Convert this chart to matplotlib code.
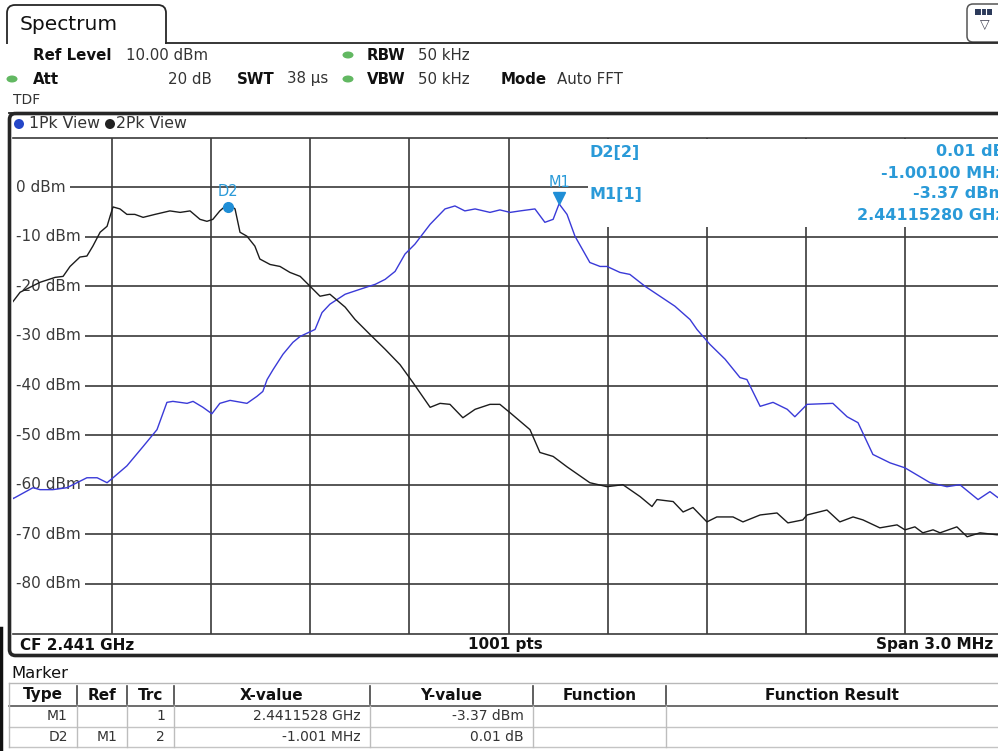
#---Spectrum analyser screenshot: two peak traces with markers---
import matplotlib.pyplot as plt
from matplotlib.patches import Rectangle, FancyBboxPatch, Ellipse, Circle
from matplotlib.transforms import blended_transform_factory, offset_copy

plt.rcParams['font.family'] = 'DejaVu Sans'

#---Instrument settings---
center_ghz = 2.441
span_mhz = 3.0
ref_level = 10      # dBm, top of the screen
bottom_level = -90  # dBm, bottom of the screen
level_ticks = [0, -10, -20, -30, -40, -50, -60, -70, -80]

#---Trace 1 (1Pk View, blue): offset from CF in MHz, level in dBm---
trace1_freq = [-1.500, -1.498, -1.438, -1.417, -1.378, -1.335, -1.275, -1.244, -1.214,
               -1.196, -1.154, -1.105, -1.063, -1.033, -1.015, -0.972, -0.954, -0.924,
               -0.897, -0.873, -0.842, -0.791, -0.761, -0.743, -0.730, -0.712, -0.682,
               -0.652, -0.630, -0.585, -0.564, -0.540, -0.494, -0.449, -0.403, -0.373,
               -0.343, -0.313, -0.283, -0.237, -0.192, -0.162, -0.132, -0.101, -0.056,
               -0.026, 0.005, 0.035, 0.080, 0.110, 0.135, 0.153, 0.177, 0.201, 0.246,
               0.277, 0.298, 0.337, 0.367, 0.413, 0.458, 0.503, 0.549, 0.570, 0.609,
               0.655, 0.700, 0.721, 0.761, 0.800, 0.843, 0.866, 0.903, 0.981, 1.024,
               1.057, 1.102, 1.154, 1.199, 1.275, 1.326, 1.365, 1.420, 1.456, 1.480, 1.500]
trace1_level = [-62.6, -62.8, -60.6, -61.0, -61.0, -60.6, -58.6, -58.6, -59.6,
                -58.6, -56.2, -52.3, -48.9, -43.4, -43.2, -43.6, -43.2, -44.4,
                -45.7, -43.6, -43.0, -43.6, -42.2, -41.2, -38.8, -36.8, -33.7,
                -31.3, -30.1, -28.7, -25.3, -23.6, -21.6, -20.6, -19.6, -18.6,
                -17.0, -13.5, -11.5, -7.5, -4.4, -3.8, -4.8, -4.4, -5.1,
                -4.6, -5.1, -4.8, -4.4, -7.1, -6.5, -3.37, -5.5, -9.9, -15.2,
                -16.0, -16.0, -17.2, -17.6, -20.0, -22.0, -24.0, -26.7, -28.7, -31.7,
                -34.7, -38.4, -38.8, -44.2, -43.4, -44.8, -46.3, -43.8, -43.6, -46.3,
                -47.5, -53.9, -55.6, -56.6, -59.6, -60.4, -60.0, -63.0, -61.4, -62.6, -62.0]

#---Trace 2 (2Pk View, black)---
trace2_freq = [-1.500, -1.477, -1.447, -1.417, -1.371, -1.347, -1.326, -1.296, -1.275,
               -1.257, -1.235, -1.214, -1.205, -1.196, -1.175, -1.154, -1.130, -1.105,
               -1.069, -1.024, -0.993, -0.963, -0.933, -0.912, -0.894, -0.873, -0.848,
               -0.827, -0.812, -0.791, -0.767, -0.752, -0.721, -0.691, -0.661, -0.630,
               -0.600, -0.570, -0.540, -0.494, -0.464, -0.419, -0.373, -0.328, -0.289,
               -0.237, -0.207, -0.177, -0.138, -0.101, -0.056, -0.026, 0.005, 0.065,
               0.095, 0.135, 0.177, 0.246, 0.298, 0.346, 0.398, 0.434, 0.449, 0.498,
               0.528, 0.558, 0.600, 0.630, 0.679, 0.709, 0.761, 0.812, 0.845, 0.890,
               0.903, 0.963, 1.002, 1.042, 1.072, 1.123, 1.175, 1.199, 1.229, 1.253,
               1.284, 1.305, 1.356, 1.387, 1.426, 1.477, 1.500]
trace2_level = [-23.2, -21.2, -20.2, -19.2, -18.2, -18.0, -16.0, -14.1, -13.9,
                -11.9, -9.1, -7.9, -5.9, -4.0, -4.4, -5.5, -5.5, -6.1,
                -5.5, -4.8, -5.1, -4.8, -6.5, -6.9, -6.5, -4.8, -3.36,
                -4.4, -9.1, -9.9, -11.9, -14.5, -15.6, -16.0, -17.2, -18.0,
                -20.0, -22.0, -21.6, -24.2, -26.7, -29.7, -32.7, -35.8, -39.4,
                -44.4, -43.6, -43.8, -46.5, -44.8, -43.8, -43.8, -45.5, -48.9,
                -53.5, -54.3, -56.4, -59.6, -60.4, -60.0, -62.4, -64.4, -63.0, -63.4,
                -65.5, -64.6, -67.5, -66.5, -66.5, -67.5, -66.1, -65.7, -67.7, -67.1,
                -66.1, -65.1, -67.5, -66.5, -67.1, -68.7, -68.1, -69.1, -68.5, -69.7,
                -69.1, -69.7, -68.5, -70.5, -69.7, -70.1, -70.0]

#---Markers---
m1_freq = 0.1528     # MHz from CF (2.4411528 GHz)
m1_level = -3.37
d2_freq = m1_freq - 1.001
d2_level = m1_level + 0.01

table_header = ["Type", "Ref", "Trc", "X-value", "Y-value", "Function", "Function Result"]
table_rows = [["M1", "", "1", "2.4411528 GHz", "-3.37 dBm", "", ""],
              ["D2", "M1", "2", "-1.001 MHz", "0.01 dB", "", ""]]

#---Colours---
blue = '#3a3ad8'
mark_blue = '#2a9ad8'
grid_col = '#3a3a3a'
frame_col = '#262626'
led_green = '#62b862'

#---Figure and a pixel overlay for the instrument frame---
W, H = 998, 751
fig = plt.figure(figsize=(W / 100, H / 100), dpi=100)
bg = fig.add_axes([0, 0, 1, 1])
bg.set_xlim(0, W)
bg.set_ylim(H, 0)
bg.axis('off')

#Tab with the title
bg.add_patch(FancyBboxPatch((7, 5), 159, 50, boxstyle="round,pad=0,rounding_size=8",
                            fc='white', ec=frame_col, lw=1.3))
bg.add_patch(Rectangle((4, 43.5), 166, 14, fc='white', ec='none'))
bg.plot([166, W], [43, 43], color=frame_col, lw=1.3)
bg.text(20, 24, "Spectrum", fontsize=14.5, va='center', color='#111')

#Top right icon
bg.add_patch(FancyBboxPatch((967, 4), 45, 38, boxstyle="round,pad=0,rounding_size=6",
                            fc='white', ec='#555', lw=1.1))
bg.add_patch(Rectangle((975, 9), 17, 6, fc='#2c3a5a', ec='none'))
for sx in [981, 986]:
    bg.plot([sx, sx], [9, 15], color='white', lw=0.8)
bg.text(985, 24, "\u25bd", fontsize=9, ha='center', va='center', color='#445')

#Settings rows
def setting(x, y, label, value=None, vx=None, ha='left'):
    bg.text(x, y, label, fontsize=10.8, fontweight='bold', va='center', color='#111')
    if value is not None:
        bg.text(vx, y, value, fontsize=10.8, va='center', ha=ha, color='#333')

setting(33, 55, "Ref Level", "10.00 dBm", 126)
setting(367, 55, "RBW", "50 kHz", 418)
setting(33, 79, "Att", "20 dB", 212, ha='right')
setting(237, 79, "SWT", "38 \u00b5s", 287)
setting(367, 79, "VBW", "50 kHz", 418)
setting(501, 79, "Mode", "Auto FFT", 557)
bg.text(13, 100, "TDF", fontsize=10, va='center', color='#333')
for cx, cy in [(348, 55), (348, 79), (12, 79)]:
    bg.add_patch(Ellipse((cx, cy), 11, 7, fc=led_green, ec='none'))
bg.plot([9, W], [112.5, 112.5], color=frame_col, lw=1.3)

#Panel frame round the diagram
bg.add_patch(FancyBboxPatch((9.5, 113.5), 1010, 542, boxstyle="round,pad=0,rounding_size=6",
                            fc='none', ec=frame_col, lw=2.6))
bg.add_patch(Circle((19, 124), 5, fc='#2446c8', ec='none'))
bg.text(29, 124, "1Pk View", fontsize=11.3, va='center', color='#333')
bg.add_patch(Circle((110, 124), 5, fc='#222', ec='none'))
bg.text(116, 124, "2Pk View", fontsize=11.3, va='center', color='#333')
bg.plot([1.5, 1.5], [628, H], color='#111', lw=2.5)

#Footer of the diagram
footer = dict(fontsize=11, fontweight='bold', va='center', color='#111')
bg.text(20, 645, "CF %.3f GHz" % center_ghz, **footer)
bg.text(505, 645, "1001 pts", ha='center', **footer)
bg.text(993, 645, "Span %.1f MHz" % span_mhz, ha='right', **footer)

#---Marker table---
bg.text(11, 673, "Marker", fontsize=11.8, va='center', color='#111')
col_edges = [9, 77, 127, 174, 370, 533, 666, W]
row_y = [683, 706, 727, 747]
bg.plot([9, W], [row_y[0], row_y[0]], color='#b8b8b8', lw=1)
bg.plot([9, W], [row_y[1], row_y[1]], color='#555', lw=1.2)
for yy in row_y[2:]:
    bg.plot([9, W], [yy, yy], color='#c4c4c4', lw=1)
bg.plot([9, 9], [row_y[0], row_y[-1]], color='#b8b8b8', lw=1)
for xe in col_edges[1:-1]:
    bg.plot([xe, xe], [row_y[0] + 3, row_y[1] - 2], color='#444', lw=1.2)
    bg.plot([xe, xe], [row_y[1], row_y[-1]], color='#bdbdbd', lw=1)
for i, name in enumerate(table_header):
    bg.text((col_edges[i] + col_edges[i + 1]) / 2, 695, name, fontsize=11,
            fontweight='bold', ha='center', va='center', color='#111')
for r, row in enumerate(table_rows):
    yc = (row_y[r + 1] + row_y[r + 2]) / 2
    for i, cell in enumerate(row):
        bg.text(col_edges[i + 1] - 9, yc, cell, fontsize=10, ha='right', va='center',
                color='#333')

#---Diagram axes---
px_left, px_right, px_top, px_bottom = 12.5, 1004.5, 137.5, 633.5
ax = fig.add_axes([px_left / W, 1 - px_bottom / H,
                   (px_right - px_left) / W, (px_bottom - px_top) / H])
ax.set_xlim(-span_mhz / 2, span_mhz / 2)
ax.set_ylim(bottom_level, ref_level)
ax.axis('off')

for k in range(1, 10):
    ax.axvline(-span_mhz / 2 + k * span_mhz / 10, color=grid_col, lw=1.2, zorder=1)
for lv in range(ref_level, bottom_level - 1, -10):
    ax.axhline(lv, color=grid_col, lw=1.2, zorder=1, clip_on=False)

lab_tr = blended_transform_factory(bg.transData, ax.transData)
for lv in level_ticks:
    ax.text(16, lv, "%d dBm" % lv, transform=lab_tr, fontsize=11, va='center', color='#3a3a3a',
            zorder=2, bbox=dict(fc='white', ec='none', pad=3))

#Marker readout area
ax.add_patch(Rectangle((588, 139), 430, 88, transform=bg.transData, fc='white', ec='none',
                       zorder=2))

ax.plot(trace1_freq, trace1_level, color=blue, lw=1.0, zorder=3)
ax.plot(trace2_freq, trace2_level, color='#1c1c1c', lw=1.0, zorder=3)

up4 = offset_copy(ax.transData, fig=fig, x=0, y=4, units='points')
ax.plot(m1_freq, m1_level, marker='v', ms=8, color='#1f8ed6', transform=up4, zorder=4)
ax.annotate("M1", xy=(m1_freq, m1_level), xytext=(0, 15.5), textcoords='offset points',
            ha='center', va='center', fontsize=10.5, color=mark_blue, zorder=5)
dn2 = offset_copy(ax.transData, fig=fig, x=0, y=-2, units='points')
ax.plot(d2_freq, d2_level, marker='o', ms=7, color='#1f8ed6', transform=dn2, zorder=4)
ax.annotate("D2", xy=(d2_freq, d2_level), xytext=(0, 8.5), textcoords='offset points',
            ha='center', va='center', fontsize=10.5, color=mark_blue, zorder=5)

readout = dict(transform=bg.transData, fontsize=11.5, fontweight='bold', color=mark_blue,
               va='center', zorder=5, clip_on=False)
ax.text(590, 152, "D2[2]", **readout)
ax.text(590, 195, "M1[1]", **readout)
ax.text(1005, 152, "%.2f dB" % (d2_level - m1_level), ha='right', **readout)
ax.text(1005, 173, "%.5f MHz" % (-1.001), ha='right', **readout)
ax.text(1005, 194, "%.2f dBm" % m1_level, ha='right', **readout)
ax.text(1005, 215, "%.8f GHz" % (center_ghz + m1_freq / 1000), ha='right', **readout)

#Save the figure as a PNG.
fig.savefig("out.png", dpi=100)
